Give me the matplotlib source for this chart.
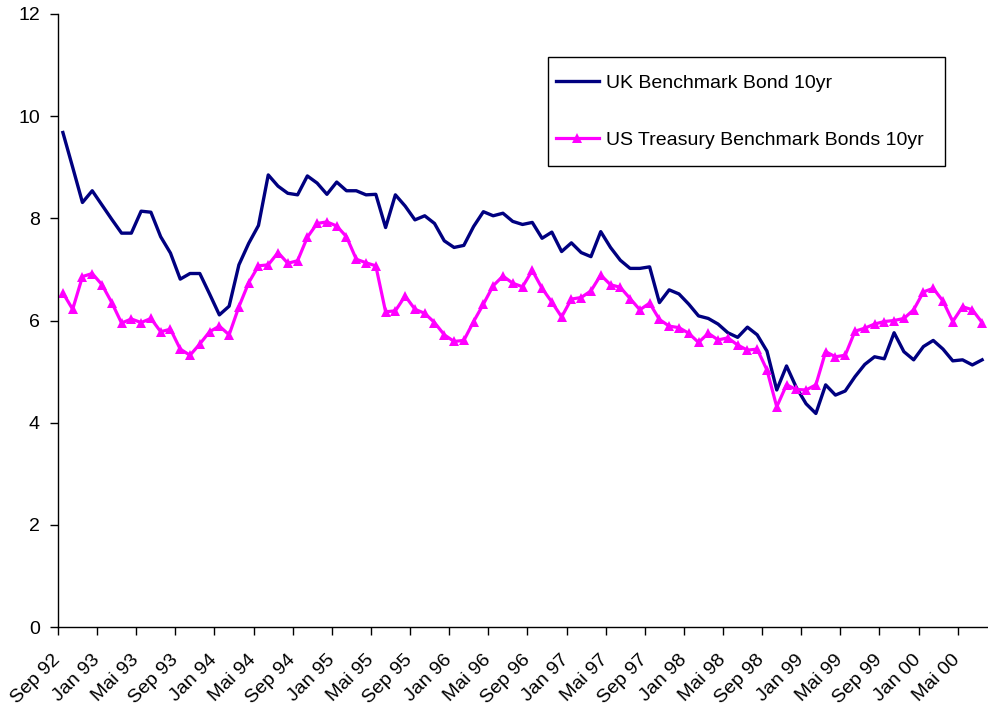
import matplotlib
matplotlib.use("Agg")
import matplotlib.pyplot as plt
from matplotlib.patches import Rectangle

# Monthly data, Sep 92 .. Jul 00
uk_bond = [9.68, 9.00, 8.31, 8.54, 8.26, 7.98, 7.71, 7.71, 8.14, 8.12,
           7.64, 7.32, 6.81, 6.92, 6.92, 6.52, 6.11, 6.28, 7.09, 7.51,
           7.86, 8.85, 8.63, 8.49, 8.46, 8.83, 8.69, 8.47, 8.71, 8.54,
           8.54, 8.46, 8.47, 7.82, 8.46, 8.24, 7.97, 8.05, 7.90, 7.56,
           7.43, 7.47, 7.84, 8.13, 8.05, 8.10, 7.94, 7.88, 7.92, 7.61,
           7.73, 7.35, 7.52, 7.33, 7.25, 7.74, 7.43, 7.18, 7.02, 7.02,
           7.05, 6.35, 6.60, 6.52, 6.32, 6.09, 6.04, 5.93, 5.76, 5.67,
           5.87, 5.72, 5.40, 4.64, 5.11, 4.69, 4.37, 4.18, 4.74, 4.54,
           4.62, 4.90, 5.14, 5.29, 5.25, 5.76, 5.39, 5.23, 5.49, 5.61,
           5.44, 5.21, 5.23, 5.13, 5.23]

us_bond = [6.54, 6.22, 6.86, 6.92, 6.70, 6.35, 5.95, 6.03, 5.96, 6.04,
           5.78, 5.83, 5.44, 5.32, 5.54, 5.78, 5.89, 5.72, 6.27, 6.74,
           7.07, 7.09, 7.33, 7.12, 7.17, 7.63, 7.90, 7.93, 7.85, 7.64,
           7.20, 7.13, 7.07, 6.17, 6.19, 6.48, 6.22, 6.14, 5.96, 5.72,
           5.59, 5.61, 5.98, 6.32, 6.68, 6.87, 6.73, 6.66, 6.98, 6.63,
           6.36, 6.07, 6.42, 6.45, 6.58, 6.89, 6.70, 6.65, 6.43, 6.21,
           6.34, 6.02, 5.89, 5.86, 5.75, 5.57, 5.75, 5.62, 5.66, 5.52,
           5.42, 5.44, 5.03, 4.31, 4.74, 4.65, 4.64, 4.74, 5.39, 5.29,
           5.32, 5.79, 5.85, 5.93, 5.98, 6.00, 6.04, 6.21, 6.56, 6.63,
           6.38, 5.98, 6.27, 6.21, 5.96]

tick_labels = ["Sep 92", "Jan 93", "Mai 93", "Sep 93", "Jan 94", "Mai 94",
               "Sep 94", "Jan 95", "Mai 95", "Sep 95", "Jan 96", "Mai 96",
               "Sep 96", "Jan 97", "Mai 97", "Sep 97", "Jan 98", "Mai 98",
               "Sep 98", "Jan 99", "Mai 99", "Sep 99", "Jan 00", "Mai 00"]

series_names = ["UK Benchmark Bond 10yr", "US Treasury Benchmark Bonds 10yr"]

plt.rcParams['font.family'] = ['Liberation Sans', 'DejaVu Sans']

fig = plt.figure(figsize=(9.88, 7.06), dpi=100)
ax = fig.add_axes([58 / 988, 1 - 627 / 706, 929 / 988, 613 / 706])

x = list(range(len(uk_bond)))
ax.plot(x, uk_bond, color='#000080', lw=2.4, label=series_names[0])
ax.plot(x, us_bond, color='#FF00FF', lw=2.3, marker='^', markersize=7.5,
        markeredgewidth=0, label=series_names[1])

ax.set_xlim(-0.5, len(uk_bond) - 0.5)
ax.set_ylim(0, 12)
ax.set_yticks(range(0, 13, 2))
ax.set_xticks([-0.5 + 4 * k for k in range(len(tick_labels))])
ax.set_xticklabels(tick_labels, rotation=45, ha='right', va='center',
                   rotation_mode='anchor')

for s in ['top', 'right']:
    ax.spines[s].set_visible(False)
for s in ['left', 'bottom']:
    ax.spines[s].set_color('black')
    ax.spines[s].set_linewidth(1.0)

ax.tick_params(axis='both', direction='out', length=6, width=1,
               colors='black', labelsize=14)
ax.tick_params(axis='y', pad=7)
ax.tick_params(axis='x', pad=16)

# legend frame
ax.add_patch(Rectangle((0.527, 0.752), 0.428, 0.178, transform=ax.transAxes,
                       facecolor='white', edgecolor='black', lw=1.0,
                       zorder=4, clip_on=False))
leg = ax.legend(loc='center left', bbox_to_anchor=(0.536, 0.841),
                fontsize=14, frameon=False, handlelength=2.2,
                labelspacing=2.0, borderpad=0, handletextpad=0.35,
                borderaxespad=0)
leg.set_zorder(5)

fig.savefig("out.png", dpi=100, facecolor='white')
